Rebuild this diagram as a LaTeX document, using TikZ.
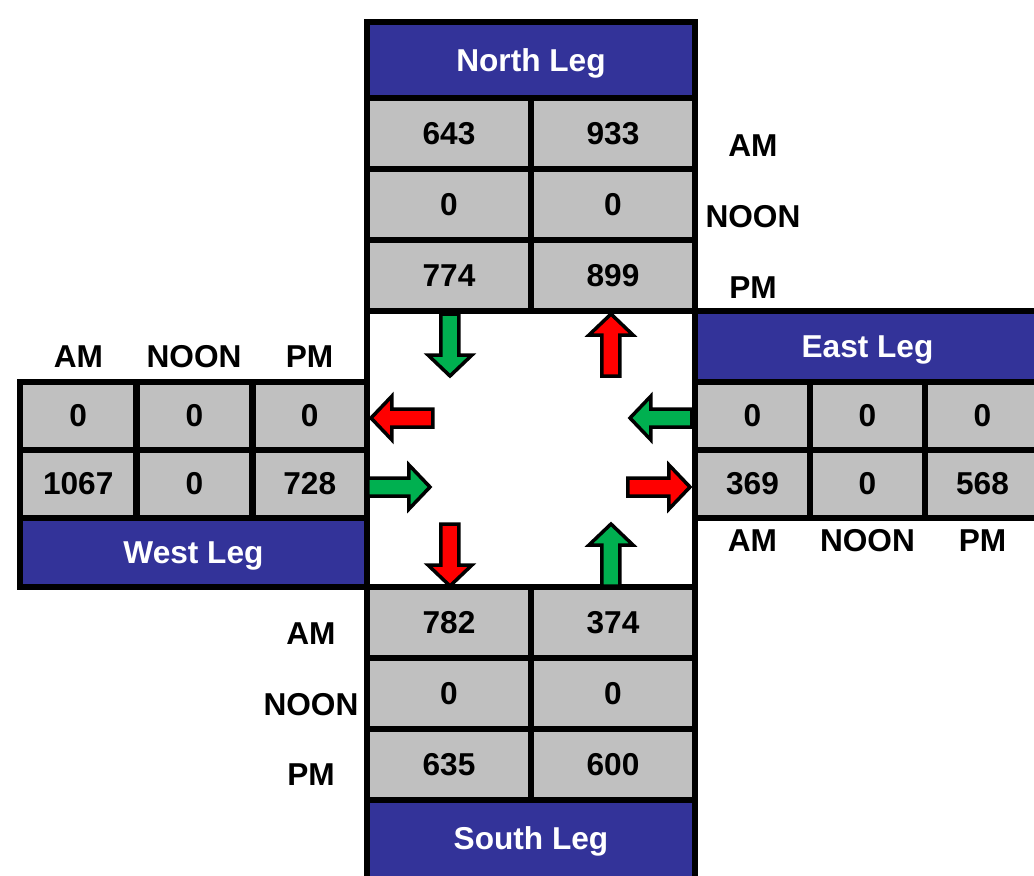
\documentclass[tikz,border=0pt]{standalone}
\usepackage{fontspec}
\setmainfont{Liberation Sans}
\definecolor{legblue}{HTML}{333399}
\definecolor{cellgray}{HTML}{C0C0C0}
\definecolor{arrowgreen}{HTML}{00B050}
\definecolor{arrowred}{HTML}{FF0000}
\newcommand{\flowarrow}[4]{\draw[flow,fill=#4,shift={(#1,#2)},rotate=#3] (0,-9)--(41,-9)--(41,-22)--(62,0)--(41,22)--(41,9)--(0,9)--cycle;}

\begin{document}
\begin{tikzpicture}[x=0.1mm,y=-0.1mm,
    txt/.style={font=\fontsize{9}{10}\selectfont\bfseries,inner sep=0pt,outer sep=0pt},
    cell/.style={txt,draw=black,line width=0.6mm,fill=cellgray},
    legbox/.style={draw=black,line width=0.6mm,fill=legblue},
    leg/.style={cell,fill=legblue,text=white,text depth=0pt},
    ncell/.style={cell,minimum width=16.4mm,minimum height=7.1mm},
    wcell/.style={cell,minimum width=11.6mm,minimum height=6.8mm},
    ecell/.style={cell,minimum width=11.5mm,minimum height=6.8mm},
    flow/.style={draw=black,line width=0.35mm,line join=miter}]
                    \useasboundingbox (0,0) rectangle (1034,876);
                    \node[cell,fill=white,minimum width=32.8mm,minimum height=27.6mm] (box) at (531,449) {};
                    \node[leg,minimum width=32.8mm,minimum height=7.6mm] (nleg) at (531,60) {North Leg};
                    \node[ncell] (n1a) at (449,133.5) {643};
                    \node[ncell] (n1b) at (613,133.5) {933};
                    \node[ncell] (n2a) at (449,204.5) {0};
                    \node[ncell] (n2b) at (613,204.5) {0};
                    \node[ncell] (n3a) at (449,275.5) {774};
                    \node[ncell] (n3b) at (613,275.5) {899};
                    \node[txt] (nam) at (753,146) {AM};
                    \node[txt] (nnoon) at (753,216.5) {NOON};
                    \node[txt] (npm) at (753,287.5) {PM};
                    \node[leg,minimum width=34.5mm,minimum height=7.1mm] (eleg) at (867.5,346.5) {East Leg};
                    \node[ecell] (e1a) at (752.5,416) {0};
                    \node[ecell] (e1b) at (867.5,416) {0};
                    \node[ecell] (e1c) at (982.5,416) {0};
                    \node[ecell] (e2a) at (752.5,484) {369};
                    \node[ecell] (e2b) at (867.5,484) {0};
                    \node[ecell] (e2c) at (982.5,484) {568};
                    \node[txt] (eam) at (752.5,541) {AM};
                    \node[txt] (enoon) at (867.5,541) {NOON};
                    \node[txt] (epm) at (982.5,541) {PM};
                    \node[wcell,minimum width=11.65mm] (w1a) at (78.25,416) {0};
                    \node[wcell] (w1b) at (194.5,416) {0};
                    \node[wcell,minimum width=11.45mm] (w1c) at (309.75,416) {0};
                    \node[wcell,minimum width=11.65mm] (w2a) at (78.25,484) {1067};
                    \node[wcell] (w2b) at (194.5,484) {0};
                    \node[wcell,minimum width=11.45mm] (w2c) at (309.75,484) {728};
                    \node[leg,minimum width=34.7mm,minimum height=6.9mm] (wleg) at (193.5,552.5) {West Leg};
                    \node[txt] (wam) at (78.5,357) {AM};
                    \node[txt] (wnoon) at (194,357) {NOON};
                    \node[txt] (wpm) at (309.5,357) {PM};
                    \node[ncell] (s1a) at (449,622.5) {782};
                    \node[ncell] (s1b) at (613,622.5) {374};
                    \node[ncell] (s2a) at (449,693.5) {0};
                    \node[ncell] (s2b) at (613,693.5) {0};
                    \node[ncell] (s3a) at (449,764.5) {635};
                    \node[ncell] (s3b) at (613,764.5) {600};
                    \draw[legbox] (367,800) rectangle (695,886);
                    \node[txt,text=white,text depth=0pt] (sleg) at (531,838) {South Leg};
                    \node[txt] (sam) at (311,634) {AM};
                    \node[txt] (snoon) at (311,705) {NOON};
                    \node[txt] (spm) at (311,775) {PM};
                    \flowarrow{450}{314}{-90}{arrowgreen}
                    \flowarrow{611}{376}{90}{arrowred}
                    \flowarrow{433}{418}{180}{arrowred}
                    \flowarrow{368}{487}{0}{arrowgreen}
                    \flowarrow{692}{418}{180}{arrowgreen}
                    \flowarrow{628}{487}{0}{arrowred}
                    \flowarrow{450}{524}{-90}{arrowred}
                    \flowarrow{611}{586}{90}{arrowgreen}
                \end{tikzpicture}
\end{document}
